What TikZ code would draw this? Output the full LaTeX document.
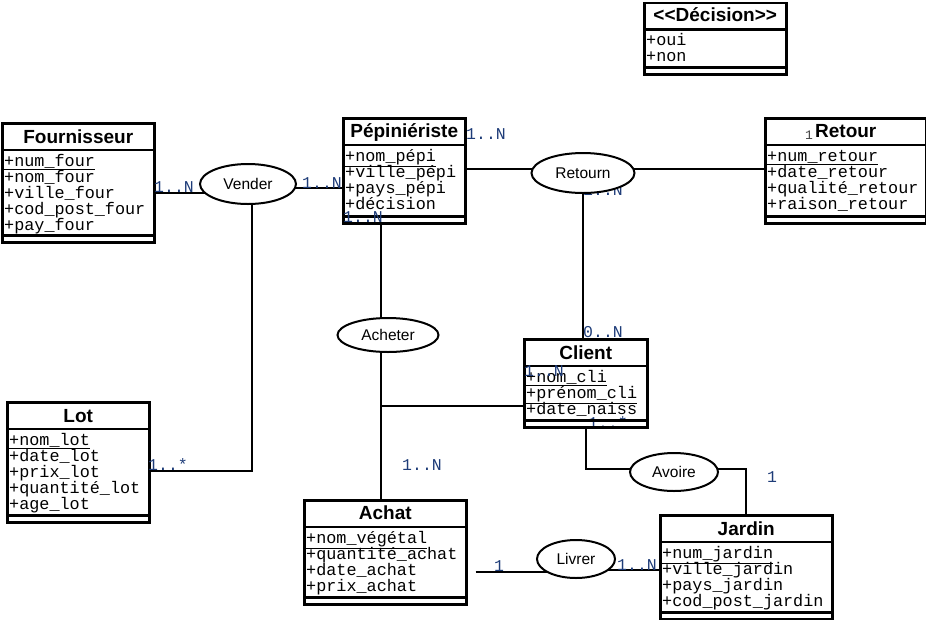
\documentclass[tikz,border=0pt]{standalone}
\usepackage{fontspec}
\setsansfont{Liberation Sans}
\setmonofont{Liberation Mono}
\usetikzlibrary{shapes.geometric,backgrounds}

\definecolor{multblue}{RGB}{30,60,120}

\tikzset{
  classbox/.style={draw, line width=2.5pt, anchor=north west, inner sep=0pt},
  classtitle/.style={font=\sffamily\bfseries\fontsize{19}{21}\selectfont, anchor=base, inner sep=0pt},
  attr/.style={font=\ttfamily\fontsize{16.8}{16}\selectfont, anchor=base west, inner sep=0pt},
  relation/.style={draw, ellipse, line width=2pt, fill=white, inner sep=0pt, font=\sffamily\fontsize{15.5}{17}\selectfont},
  mult/.style={font=\ttfamily\fontsize{16.5}{16}\selectfont, text=multblue, anchor=base west, inner sep=0pt},
  sepline/.style={line width=2.5pt},
  link/.style={line width=2pt}
}

% title band and empty bottom compartment of a class
\newcommand{\classlines}[1]{%
  \draw[sepline] ([yshift=-28pt]#1.north west) -- ([yshift=-28pt]#1.north east);
  \draw[sepline] ([yshift=8pt]#1.south west) -- ([yshift=8pt]#1.south east);}

\begin{document}
\begin{tikzpicture}[x=1pt, y=-1pt]
    \useasboundingbox (0,0) rectangle (926,619);

    % Classes
    \node[classbox, minimum width=152pt, minimum height=119pt] (four) at (1,122) {};
    \node[classbox, minimum width=122pt, minimum height=105pt] (pepi) at (342,117) {};
    \node[classbox, minimum width=142pt, minimum height=71.5pt] (deci) at (643,1.5) {};
    \node[classbox, minimum width=161pt, minimum height=105pt] (retour) at (764,117) {};
    \node[classbox, minimum width=142pt, minimum height=120pt] (lot) at (6,401) {};
    \node[classbox, minimum width=123pt, minimum height=88pt] (client) at (523,338) {};
    \node[classbox, minimum width=162pt, minimum height=104pt] (achat) at (303,499) {};
    \node[classbox, minimum width=172pt, minimum height=104pt] (jardin) at (659,514) {};

    \classlines{four}
    \classlines{pepi}
    \classlines{deci}
    \classlines{retour}
    \classlines{lot}
    \classlines{client}
    \classlines{achat}
    \classlines{jardin}

    % Titles
    \node[classtitle] (four-t) at ([yshift=-21pt]four.north) {Fournisseur};
    \node[classtitle] (pepi-t) at ([yshift=-20pt]pepi.north) {Pépiniériste};
    \node[classtitle] (deci-t) at ([yshift=-20pt]deci.north) {<{}<Décision>{}>};
    \node[classtitle] (retour-t) at ([yshift=-20pt]retour.north) {Retour};
    \node[classtitle] (lot-t) at ([yshift=-21pt]lot.north) {Lot};
    \node[classtitle] (client-t) at ([yshift=-21pt]client.north) {Client};
    \node[classtitle] (achat-t) at ([yshift=-20pt]achat.north) {Achat};
    \node[classtitle] (jardin-t) at ([yshift=-21pt]jardin.north) {Jardin};
    \node[mult, text=darkgray, font=\ttfamily\fontsize{13}{14}\selectfont] (retour-one) at (805,139) {1};

    % Attributes
    \foreach \a [count=\i] in {\underline{+num\_four},+nom\_four,+ville\_four,+cod\_post\_four,+pay\_four}
        \node[attr] (four-\i) at ([xshift=3pt, yshift={-28pt-16pt*\i}]four.north west) {\a};
    \foreach \a [count=\i] in {\underline{+nom\_pépi},+ville\_pépi,+pays\_pépi,+décision}
        \node[attr] (pepi-\i) at ([xshift=3pt, yshift={-28pt-16pt*\i}]pepi.north west) {\a};
    \foreach \a [count=\i] in {+oui,+non}
        \node[attr] (deci-\i) at ([xshift=3pt, yshift={-28pt-16pt*\i}]deci.north west) {\a};
    \foreach \a [count=\i] in {\underline{+num\_retour},+date\_retour,+qualité\_retour,+raison\_retour}
        \node[attr] (retour-\i) at ([xshift=3pt, yshift={-28pt-16pt*\i}]retour.north west) {\a};
    \foreach \a [count=\i] in {\underline{+nom\_lot},+date\_lot,+prix\_lot,+quantité\_lot,+age\_lot}
        \node[attr] (lot-\i) at ([xshift=3pt, yshift={-28pt-16pt*\i}]lot.north west) {\a};
    \foreach \a [count=\i] in {\underline{+nom\_cli},\underline{+prénom\_cli},+date\_naiss}
        \node[attr] (client-\i) at ([xshift=3pt, yshift={-28pt-16pt*\i}]client.north west) {\a};
    \foreach \a [count=\i] in {\underline{+nom\_végétal},+quantité\_achat,+date\_achat,+prix\_achat}
        \node[attr] (achat-\i) at ([xshift=3pt, yshift={-28pt-16pt*\i}]achat.north west) {\a};
    \foreach \a [count=\i] in {\underline{+num\_jardin},+ville\_jardin,+pays\_jardin,+cod\_post\_jardin}
        \node[attr] (jardin-\i) at ([xshift=3pt, yshift={-28pt-16pt*\i}]jardin.north west) {\a};

    % Associations
    \node[relation, minimum width=96pt, minimum height=40pt] (vender) at (248,184) {Vender};
    \node[relation, minimum width=103pt, minimum height=40pt] (retourn) at (583,173) {Retourn};
    \node[relation, minimum width=101pt, minimum height=34pt] (acheter) at (388,335) {Acheter};
    \node[relation, minimum width=88pt, minimum height=38pt] (avoire) at (674,472) {Avoire};
    \node[relation, minimum width=78pt, minimum height=38pt] (livrer) at (576,559) {Livrer};

    % Multiplicities
    \node[mult] (m1) at (154,192) {1..N};
    \node[mult] (m2) at (302,188) {1..N};
    \node[mult] (m3) at (466,139) {1..N};
    \node[mult] (m4) at (343,222) {1..N};
    \node[mult] (m6) at (583,337) {0..N};
    \node[mult] (m7) at (524,376) {1..N};
    \node[mult] (m9) at (148,470) {1..*};
    \node[mult] (m10) at (402,470) {1..N};
    \node[mult] (m11) at (767,482) {1};
    \node[mult] (m12) at (494,571) {1};
    \node[mult] (m13) at (617,570) {1..N};

    % Links, under the ellipses
    \begin{scope}[on background layer]
        \node[mult] (m5) at (583,195) {1..N};
        \node[mult] (m8) at (588,428) {1..*};

        \coordinate (f1) at ([yshift=-10pt]four.east);
        \coordinate (p1) at ([yshift=-17pt]pepi.west);
        \coordinate (l1) at ([yshift=-9pt]lot.east);
        \coordinate (v1) at ([xshift=4pt]vender.center);
        \coordinate (pb) at ([xshift=39pt]pepi.south west);
        \coordinate (c1) at ([yshift=-23pt]client.west);
        \coordinate (a1) at ([xshift=8pt, yshift=-20pt]achat.east);
        \coordinate (j1) at ([yshift=-3pt]jardin.west);

        \draw[link] (f1) -- (f1 -| vender.center);
        \draw[link] (p1) -- (p1 -| vender.center);
        \draw[link] (v1) |- (l1);
        \draw[link] (pb) -- (pb |- achat.north);
        \draw[link] (c1) -- (c1 -| pb);
        \draw[link] ([yshift=2pt]pepi.east) -- ([yshift=2pt]retour.west);
        \draw[link] (retourn.center) -- (retourn.center |- client.north);
        \draw[link] (client.south) |- ([yshift=3pt]avoire.center) -| (jardin.north);
        \draw[link] (a1) -- (a1 -| livrer.center);
        \draw[link] (j1) -- (j1 -| livrer.center);
    \end{scope}

\end{tikzpicture}
\end{document}
